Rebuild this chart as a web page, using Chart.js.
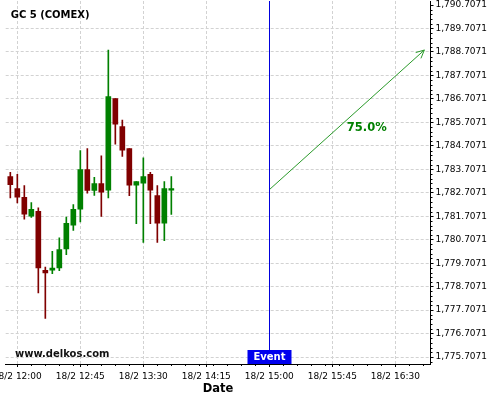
<!DOCTYPE html>
<html>
<head>
<meta charset="utf-8">
<script src="https://cdn.jsdelivr.net/npm/chart.js@4.4.1/dist/chart.umd.min.js"></script>
<style>
  html, body { margin: 0; padding: 0; background: #fff; }
  #wrap { width: 500px; height: 400px; }
</style>
</head>
<body>
<div id="wrap"><canvas id="chart" width="500" height="400"></canvas></div>
<script>
// GC 5 (COMEX), 5 min candles. times = minutes after 18/2 12:00
const candleTimes = [-5, 0, 5, 10, 15, 20, 25, 30, 35, 40, 45, 50,
  55, 60, 65, 70, 75, 80, 85, 90, 95, 100, 105, 110];
const opens = [1783.40, 1782.89, 1782.51, 1781.71, 1781.92, 1779.40, 1779.41, 1779.50,
  1780.31, 1781.33, 1782.01, 1783.70, 1782.81, 1783.10, 1782.82, 1786.72,
  1785.53, 1784.59, 1783.03, 1783.12, 1783.49, 1782.59, 1781.41, 1782.82];
const highs = [1783.58, 1783.49, 1783.01, 1782.29, 1782.07, 1779.54, 1780.21, 1780.79,
  1781.67, 1782.20, 1784.51, 1784.59, 1783.37, 1784.28, 1788.79, 1786.72,
  1785.81, 1784.59, 1783.18, 1784.20, 1783.58, 1783.01, 1783.18, 1783.40];
const lows = [1782.49, 1782.28, 1781.58, 1781.66, 1778.44, 1777.35, 1779.26, 1779.39,
  1780.07, 1781.10, 1781.46, 1782.69, 1782.59, 1781.70, 1782.49, 1784.78,
  1784.26, 1782.58, 1781.39, 1780.59, 1781.39, 1780.59, 1780.67, 1781.78];
const closes = [1783.05, 1782.52, 1781.80, 1782.00, 1779.50, 1779.29, 1779.50, 1780.29,
  1781.40, 1782.00, 1783.70, 1782.81, 1783.10, 1782.73, 1786.81, 1785.63,
  1784.52, 1783.03, 1783.18, 1783.40, 1782.82, 1781.41, 1782.89, 1782.89];

const yTickValues = [1775.7071, 1776.7071, 1777.7071, 1778.7071, 1779.7071, 1780.7071,
  1781.7071, 1782.7071, 1783.7071, 1784.7071, 1785.7071, 1786.7071, 1787.7071,
  1788.7071, 1789.7071, 1790.7071];
const xTickValues = [0, 45, 90, 135, 180, 225, 270];
const dayLabel = "18/2";

const eventTime = 180;
const eventLabel = "Event";
const arrowTimes = [180, 290.7];
const arrowValues = [1782.84, 1788.79];
const arrowText = "75.0%";
const arrowTextAt = [249.6, 1785.47];
const titleText = "GC 5 (COMEX)";
const siteText = "www.delkos.com";

const UP = "#008000";
const DOWN = "#800000";
const FONT = "DejaVu Sans";
const GRID = "#d2d2d2";

Chart.defaults.font.family = FONT;

function candleColor(ctx) {
  const i = ctx.dataIndex;
  return closes[i] >= opens[i] ? UP : DOWN;
}

function timeLabel(m) {
  const h = 12 + Math.floor(m / 60);
  const mm = String(((m % 60) + 60) % 60).padStart(2, "0");
  return `${dayLabel} ${h}:${mm}`;
}

const overlay = {
  id: "overlay",
  afterDatasetsDraw(chart) {
    const { ctx, chartArea: ca, scales: { x, y } } = chart;
    ctx.save();

    // minor ticks
    ctx.strokeStyle = "#000";
    ctx.lineWidth = 1;
    ctx.beginPath();
    for (let m = -10; m <= 300; m += 10) {
      const px = x.getPixelForValue(m);
      if (px < ca.left || px > ca.right) continue;
      ctx.moveTo(Math.round(px) + 0.5, ca.bottom);
      ctx.lineTo(Math.round(px) + 0.5, ca.bottom + 2);
    }
    for (let k = -2; k <= 80; k++) {
      const v = yTickValues[0] + k * 0.2;
      if (k % 5 === 0) continue;
      const py = y.getPixelForValue(v);
      if (py < ca.top || py > ca.bottom) continue;
      ctx.moveTo(ca.right, Math.round(py) + 0.5);
      ctx.lineTo(ca.right + 2, Math.round(py) + 0.5);
    }
    ctx.stroke();

    // event line + box
    const ex = Math.round(x.getPixelForValue(eventTime)) + 0.5;
    const boxH = 14, boxW = 44;
    ctx.strokeStyle = "#0000dd";
    ctx.beginPath();
    ctx.moveTo(ex, ca.top);
    ctx.lineTo(ex, ca.bottom - boxH);
    ctx.stroke();
    ctx.fillStyle = "#0000ee";
    ctx.fillRect(ex - boxW / 2, ca.bottom - boxH, boxW, boxH);
    ctx.fillStyle = "#fff";
    ctx.font = `bold 10px "${FONT}"`;
    ctx.textAlign = "center";
    ctx.textBaseline = "middle";
    ctx.fillText(eventLabel, ex, ca.bottom - boxH / 2);

    // arrow head
    const n = arrowTimes.length;
    const x0 = x.getPixelForValue(arrowTimes[n - 2]), y0 = y.getPixelForValue(arrowValues[n - 2]);
    const x1 = x.getPixelForValue(arrowTimes[n - 1]), y1 = y.getPixelForValue(arrowValues[n - 1]);
    const ang = Math.atan2(y1 - y0, x1 - x0);
    ctx.strokeStyle = "#2a9a2a";
    ctx.beginPath();
    ctx.moveTo(x1 - 9 * Math.cos(ang - 0.45), y1 - 9 * Math.sin(ang - 0.45));
    ctx.lineTo(x1, y1);
    ctx.lineTo(x1 - 9 * Math.cos(ang + 0.45), y1 - 9 * Math.sin(ang + 0.45));
    ctx.stroke();

    ctx.fillStyle = UP;
    ctx.font = `bold 11.5px "${FONT}"`;
    ctx.fillText(arrowText, x.getPixelForValue(arrowTextAt[0]), y.getPixelForValue(arrowTextAt[1]));

    // title + site
    ctx.textAlign = "left";
    ctx.fillStyle = "#000";
    ctx.font = `bold 10px "${FONT}"`;
    ctx.fillText(titleText, ca.left + 5, 15.5);
    ctx.fillStyle = "#111";
    ctx.fillText(siteText, 15, 354);
    ctx.restore();
  }
};

const ctx = document.getElementById("chart").getContext("2d");
new Chart(ctx, {
  type: "bar",
  data: {
    datasets: [
      {
        label: "body",
        data: candleTimes.map((t, i) => ({ x: t, y: [opens[i], closes[i]] })),
        backgroundColor: candleColor,
        barThickness: 5,
        grouped: false,
        borderWidth: 0,
      },
      {
        label: "wick",
        data: candleTimes.map((t, i) => ({ x: t, y: [lows[i], highs[i]] })),
        backgroundColor: candleColor,
        barThickness: 1,
        grouped: false,
        borderWidth: 0,
      },
      {
        type: "line",
        label: "arrow",
        data: arrowTimes.map((t, i) => ({ x: t, y: arrowValues[i] })),
        borderColor: "#2a9a2a",
        borderWidth: 1,
        pointRadius: 0,
        fill: false,
      },
    ],
  },
  options: {
    responsive: false,
    animation: false,
    layout: { padding: { left: 5.7, top: 1, right: 0, bottom: 0 } },
    plugins: {
      legend: { display: false },
      tooltip: { enabled: false },
    },
    scales: {
      x: {
        type: "linear",
        min: -8.3,
        max: 295.1,
        offset: false,
        afterBuildTicks: (s) => { s.ticks = xTickValues.map((v) => ({ value: v })); },
        afterFit: (s) => { s.height = 36; s.paddingLeft = 0; s.paddingRight = 0; },
        ticks: {
          autoSkip: false,
          maxRotation: 0,
          color: "#000",
          padding: 4,
          font: { size: 9 },
          callback: (v) => timeLabel(v),
        },
        grid: { color: GRID, tickColor: "#000", tickLength: 3, offset: false },
        border: { display: true, color: "#000", width: 1, dash: [3, 2] },
        title: {
          display: true,
          text: "Date",
          color: "#000",
          font: { size: 11.5, weight: "bold" },
          padding: { top: 0, bottom: 4 },
        },
      },
      y: {
        position: "right",
        min: 1775.41,
        max: 1790.88,
        afterBuildTicks: (s) => { s.ticks = yTickValues.map((v) => ({ value: v })); },
        afterFit: (s) => { s.width = 69.5; s.paddingTop = 0; s.paddingBottom = 0; },
        ticks: {
          color: "#000",
          padding: 2,
          font: { size: 9 },
          callback: (v) => v.toLocaleString("en-US", { minimumFractionDigits: 4, maximumFractionDigits: 4 }),
        },
        grid: {
          color: (c) => (c.tick && c.tick.value === yTickValues[yTickValues.length - 1] ? "rgba(0,0,0,0)" : GRID),
          tickColor: "#000",
          tickLength: 3,
        },
        border: { display: true, color: "#000", width: 1, dash: [3, 2] },
      },
    },
  },
  plugins: [overlay],
});
</script>
</body>
</html>
